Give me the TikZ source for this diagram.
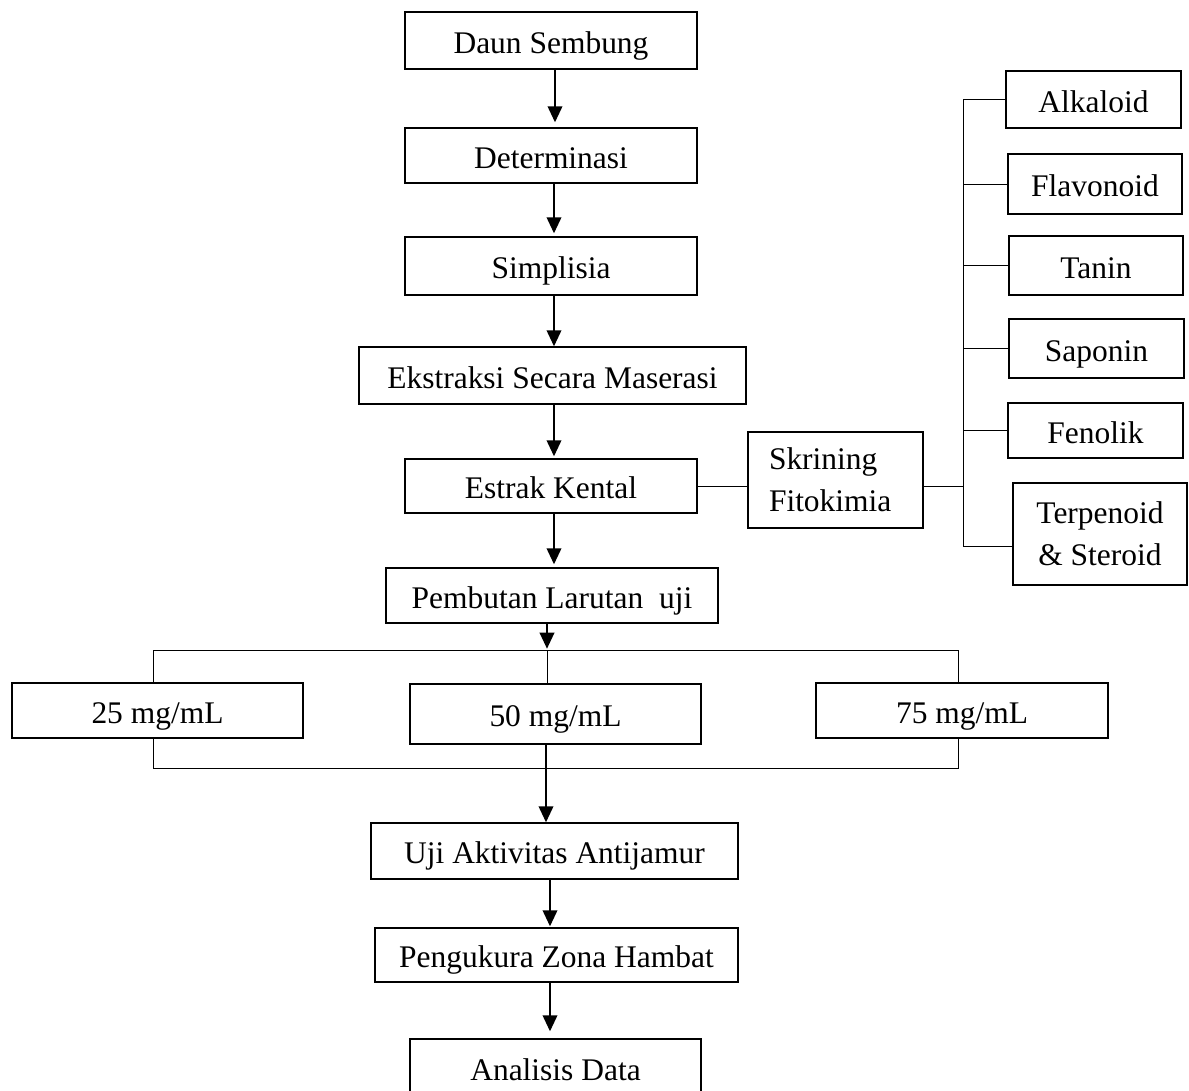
\documentclass[tikz,border=0pt]{standalone}
\usepackage{fontspec}
\setmainfont{Liberation Serif}
\usetikzlibrary{arrows.meta}
\newdimen\px \px=0.75pt
\tikzset{
  box/.style 2 args={draw, line width=1.1pt, minimum width=#1\px, minimum height=#2\px,
    inner sep=0pt, font=\fontsize{23.6pt}{31.5pt}\selectfont},
  one/.style={text height=21.2pt, text depth=2.4pt},
  arr/.style={line width=1.2pt, -{Triangle[width=11pt,length=12pt]}},
  thinline/.style={line width=0.6pt},
}
\begin{document}
\begin{tikzpicture}[x=0.75pt,y=-0.75pt]
\clip (0,0) rectangle (1189,1090);
\fill[white] (0,0) rectangle (1189,1090);

% main column
\node[box={292}{57},one] (daun) at (551,40.5) {Daun Sembung};
\node[box={292}{55},one] (det) at (551,155.5) {Determinasi};
\node[box={292}{58},one] (simp) at (551,266) {Simplisia};
\node[box={387}{57},one] (eks) at (552.5,375.5) {Ekstraksi Secara Maserasi};
\node[box={292}{54},one] (estrak) at (551,486) {Estrak Kental};
\node[box={175}{96},align=left,text width=133\px] (skr) at (835.5,480) {Skrining\\Fitokimia};

% right column
\node[box={175}{57},one] (alk) at (1093.5,99.5) {Alkaloid};
\node[box={174}{60},one] (flav) at (1095,184) {Flavonoid};
\node[box={174}{59},one] (tan) at (1096,265.5) {Tanin};
\node[box={175}{59},one] (sap) at (1096.5,348.5) {Saponin};
\node[box={175}{55},one] (fen) at (1095.5,430.5) {Fenolik};
\node[box={174}{102},align=center] (ter) at (1100,534) {Terpenoid\\\& Steroid};

% lower part
\node[box={332}{55},one] (pemb) at (552,595.5) {Pembutan Larutan\ \ uji};
\node[box={291}{55},one] (c25) at (157.5,710.5) {25 mg/mL};
\node[box={291}{60},one] (c50) at (555.5,714) {50 mg/mL};
\node[box={292}{55},one] (c75) at (962,710.5) {75 mg/mL};
\node[box={367}{56},one] (uji) at (554.5,851) {Uji Aktivitas Antijamur};
\node[box={363}{54},one] (peng) at (556.5,955) {Pengukura Zona Hambat};
\node[box={291}{57},one] (anal) at (555.5,1067.5) {Analisis Data};

% helper coordinates
\coordinate (xa) at (555,0);
\coordinate (xb) at (554,0);
\coordinate (xc) at (547,0);
\coordinate (xd) at (546,0);
\coordinate (xe) at (550,0);
\coordinate (bus) at (963,0);
\coordinate (tb) at (963,546);
\coordinate (tl) at (153,650);
\coordinate (tr) at (958,650);
\coordinate (tm) at (547,650);
\coordinate (bl) at (153,768);
\coordinate (br) at (958,768);

% arrows in main column
\draw[arr,shorten >=3.75pt] (daun.south -| xa) -- (det.north -| xa);
\draw[arr,shorten >=2.25pt] (det.south -| xb) -- (simp.north -| xb);
\draw[arr] (simp.south -| xb) -- (eks.north -| xb);
\draw[arr,shorten >=1.5pt] (eks.south -| xb) -- (estrak.north -| xb);
\draw[arr,shorten >=2.25pt] (estrak.south -| xb) -- (pemb.north -| xb);
\draw[arr,shorten >=1pt] (pemb.south -| xc) -- (tm);
\draw[arr] (c50.south -| xd) -- (uji.north -| xd);
\draw[arr,shorten >=0.75pt] (uji.south -| xe) -- (peng.north -| xe);
\draw[arr,shorten >=5.25pt] (peng.south -| xe) -- (anal.north -| xe);

% screening branch
\draw[thinline] (estrak.east) -- (estrak.east -| skr.west);
\draw[thinline] (estrak.east -| skr.east) -- (estrak.east -| bus);
\draw[thinline] (alk.west -| bus) -- (tb);
\draw[thinline] (alk.west -| bus) -- (alk.west);
\draw[thinline] (flav.west -| bus) -- (flav.west);
\draw[thinline] (tan.west -| bus) -- (tan.west);
\draw[thinline] (sap.west -| bus) -- (sap.west);
\draw[thinline] (fen.west -| bus) -- (fen.west);
\draw[thinline] (tb) -- (tb -| ter.west);

% concentration distribution
\draw[thinline] (tl |- c25.north) -- (tl) -- (tr) -- (tr |- c75.north);
\draw[thinline] (tm) -- (tm |- c50.north);
\draw[thinline] (tl |- c25.south) -- (bl) -- (br) -- (tr |- c75.south);
\end{tikzpicture}
\end{document}
